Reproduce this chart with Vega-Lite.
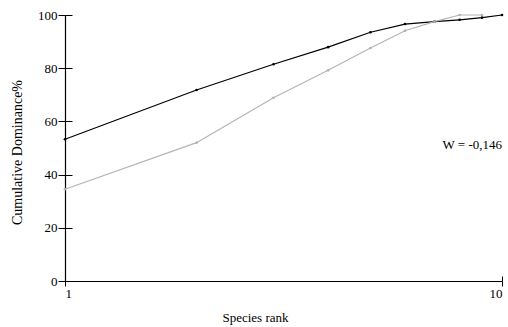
{
  "$schema": "https://vega.github.io/schema/vega-lite/v6.json",
  "autosize": {"type": "none"},
  "padding": {"left": 65, "top": 15, "right": 6, "bottom": 46},
  "width": 437,
  "height": 266,
  "background": "white",
  "config": {
    "view": {"stroke": null},
    "font": "Liberation Serif",
    "axis": {"labelFont": "Liberation Serif", "titleFont": "Liberation Serif", "labelColor": "black", "titleColor": "black", "domainColor": "black", "tickColor": "black", "grid": false, "labelFontSize": 13, "titleFontSize": 13, "titleFontWeight": "normal"}
  },
  "datasets": {
    "curves": [
      {"rank": 1, "dom": 53.3, "series": "A"},
      {"rank": 2, "dom": 71.8, "series": "A"},
      {"rank": 3, "dom": 81.5, "series": "A"},
      {"rank": 4, "dom": 87.9, "series": "A"},
      {"rank": 5, "dom": 93.5, "series": "A"},
      {"rank": 6, "dom": 96.6, "series": "A"},
      {"rank": 7, "dom": 97.5, "series": "A"},
      {"rank": 8, "dom": 98.2, "series": "A"},
      {"rank": 9, "dom": 99.0, "series": "A"},
      {"rank": 10, "dom": 100, "series": "A"},
      {"rank": 1, "dom": 34.5, "series": "B"},
      {"rank": 2, "dom": 52.0, "series": "B"},
      {"rank": 3, "dom": 68.9, "series": "B"},
      {"rank": 4, "dom": 79.2, "series": "B"},
      {"rank": 5, "dom": 87.6, "series": "B"},
      {"rank": 6, "dom": 94.1, "series": "B"},
      {"rank": 7, "dom": 97.5, "series": "B"},
      {"rank": 8, "dom": 100, "series": "B"},
      {"rank": 9, "dom": 100, "series": "B"}
    ],
    "note": [{"rank": 10, "dom": 51, "label": "W = -0,146"}]
  },
  "resolve": {"axis": {"x": "independent", "y": "independent"}},
  "layer": [
    {
      "data": {"name": "curves"},
      "mark": {"type": "line", "strokeWidth": 1.2, "point": {"filled": true, "size": 7}},
      "encoding": {
        "x": {"field": "rank", "type": "quantitative", "scale": {"type": "log", "domain": [1, 10], "nice": false},
          "axis": {"values": [1, 10], "format": "d", "title": "Species rank", "tickSize": 5, "labelPadding": 1, "titlePadding": 11, "titleX": 190, "domainWidth": 1.2}},
        "y": {"field": "dom", "type": "quantitative", "scale": {"domain": [0, 100], "nice": false},
          "axis": {"values": [0, 20, 40, 60, 80, 100], "title": "Cumulative Dominance%", "titleFontSize": 14, "titleY": 137, "tickSize": 7, "labelPadding": 1, "titlePadding": 13, "domainWidth": 1.2}},
        "color": {"field": "series", "type": "nominal", "scale": {"domain": ["A", "B"], "range": ["#000000", "#b4b4b4"]}, "legend": null},
        "order": {"field": "rank"},
        "detail": {"field": "series"}
      }
    },
    {
      "data": {"name": "note"},
      "mark": {"type": "text", "align": "right", "baseline": "middle", "fontSize": 13, "font": "Liberation Serif", "color": "black"},
      "encoding": {
        "x": {"field": "rank", "type": "quantitative", "axis": {"values": [1, 10], "tickSize": -5, "labels": false, "domain": false, "title": null, "orient": "bottom", "offset": 0}},
        "y": {"field": "dom", "type": "quantitative", "axis": {"values": [0, 20, 40, 60, 80, 100], "tickSize": -7, "labels": false, "domain": false, "title": null, "orient": "left", "offset": 0}},
        "text": {"field": "label"}
      }
    }
  ]
}
